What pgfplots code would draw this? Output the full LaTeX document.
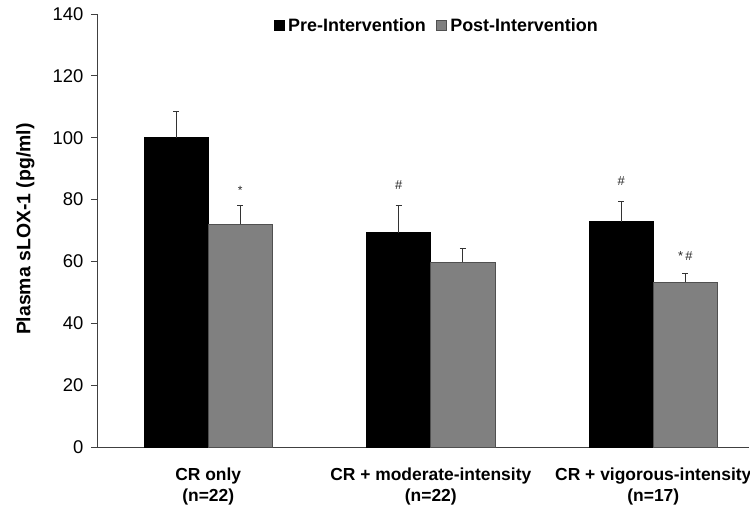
\documentclass[border=0pt]{standalone}
\usepackage{pgfplots}
\pgfplotsset{compat=1.18}
\usepackage{fontspec}
\setmainfont{Liberation Sans}
\definecolor{postgray}{RGB}{128,128,128}
\definecolor{edgegray}{RGB}{80,80,80}
\begin{document}
\begin{tikzpicture}
\path[use as bounding box] (0,0) rectangle (750bp,508bp);
\begin{axis}[
  at={(97bp,61bp)}, anchor=south west,
  scale only axis, width=652bp, height=433bp,
  xmin=-0.5, xmax=2.43, ymin=0, ymax=140,
  axis x line=bottom, axis y line=left,
  axis line style={black!75, line width=0.8pt, -},
  xtick={0,1,2},
  xticklabels={{CR only\\(n=22)},{CR + moderate-intensity\\(n=22)},{CR + vigorous-intensity\\(n=17)}},
  x tick style={draw=none},
  xticklabel style={align=center, font=\bfseries\fontsize{17.5}{21}\selectfont, yshift=-11bp},
  ytick={0,20,...,140},
  tick align=outside, major tick length=6bp,
  y tick style={black!75, line width=0.8pt},
  /pgf/number format/assume math mode=true,
  yticklabel style={font=\fontsize{18.5}{21}\selectfont, xshift=-4bp},
  ylabel={Plasma sLOX-1 (pg/ml)},
  ylabel style={font=\bfseries\fontsize{19.5}{22}\selectfont, at={(axis description cs:-0.110,0.503)}, anchor=center},
  legend columns=2,
  legend style={draw=none, fill=none, at={(axis description cs:0.521,0.974)}, anchor=center,
    font=\bfseries\fontsize{18}{20}\selectfont, column sep=2bp,
    /tikz/every even column/.append style={column sep=8bp}},
  legend image code/.code={\draw[#1] (0bp,-5bp) rectangle (10bp,5bp);},
  clip=false,
]
\addplot[ybar, bar width=0.288, bar shift=0pt, fill=black, draw=black, line width=0.6pt,
  error bars/.cd, y dir=plus, y explicit,
  error bar style={black!80, line width=0.8pt}, error mark options={rotate=90, mark size=3bp, black!80, line width=0.8pt}]
  table[x=x, y=y, y error=err] {
x y err
-0.144 100.0 8.4
0.856 69.3 8.7
1.856 72.9 6.6
};
\addlegendentry{Pre-Intervention}
\addplot[ybar, bar width=0.288, bar shift=0pt, fill=postgray, draw=edgegray, line width=0.6pt,
  error bars/.cd, y dir=plus, y explicit,
  error bar style={black!80, line width=0.8pt}, error mark options={rotate=90, mark size=3bp, black!80, line width=0.8pt}]
  table[x=x, y=y, y error=err] {
x y err
0.144 72.0 6.0
1.144 59.8 4.3
2.144 53.3 2.9
};
\addlegendentry{Post-Intervention}
\node[font=\fontsize{12}{14}\selectfont, text=black!85] at (axis cs:0.144,83) {*};
\node[font=\fontsize{13}{15}\selectfont, text=black!85] at (axis cs:0.856,84.6) {\#};
\node[font=\fontsize{13}{15}\selectfont, text=black!85] at (axis cs:1.856,86.0) {\#};
\node[font=\fontsize{13}{15}\selectfont, text=black!85] at (axis cs:2.144,61.8) {*\,\#};
\end{axis}
\end{tikzpicture}
\end{document}
